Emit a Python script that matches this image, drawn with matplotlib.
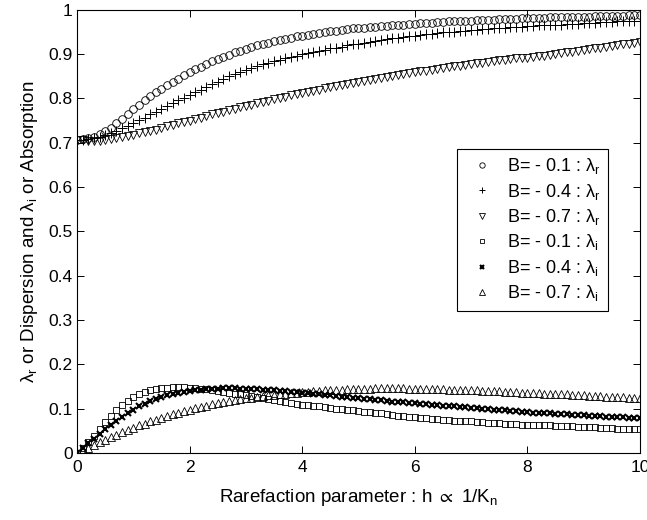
import numpy as np
import matplotlib
matplotlib.use('Agg')
from matplotlib import pyplot

pyplot.rcParams['font.family'] = ['Liberation Sans', 'DejaVu Sans']
pyplot.rcParams['mathtext.fontset'] = 'custom'
pyplot.rcParams['mathtext.rm'] = 'Liberation Sans'
pyplot.rcParams['mathtext.it'] = 'Liberation Sans'
pyplot.rcParams['mathtext.default'] = 'regular'
pyplot.rcParams['mathtext.fallback'] = 'stixsans'

# rarefaction parameter h, one marker every 0.1
h = [round(0.1 * i, 1) for i in range(101)]

# dispersion lambda_r
lam_r_01 = [0.707, 0.708, 0.710, 0.714, 0.719, 0.726, 0.734, 0.744, 0.754, 0.765,
            0.776, 0.786, 0.796, 0.806, 0.814, 0.822, 0.830, 0.838, 0.845, 0.852,
            0.859, 0.866, 0.872, 0.878, 0.884, 0.889, 0.894, 0.899, 0.904, 0.908,
            0.912, 0.916, 0.920, 0.923, 0.926, 0.929, 0.932, 0.935, 0.937, 0.940,
            0.942, 0.944, 0.946, 0.948, 0.950, 0.952, 0.953, 0.955, 0.956, 0.958,
            0.959, 0.960, 0.961, 0.962, 0.963, 0.964, 0.965, 0.966, 0.967, 0.968,
            0.969, 0.970, 0.971, 0.971, 0.972, 0.973, 0.974, 0.974, 0.975, 0.976,
            0.976, 0.977, 0.977, 0.978, 0.978, 0.979, 0.979, 0.980, 0.980, 0.981,
            0.981, 0.982, 0.982, 0.982, 0.983, 0.983, 0.984, 0.984, 0.984, 0.985,
            0.985, 0.985, 0.986, 0.986, 0.986, 0.987, 0.987, 0.987, 0.988, 0.988,
            0.988]
lam_r_04 = [0.707, 0.707, 0.708, 0.710, 0.713, 0.717, 0.722, 0.727, 0.733, 0.739,
            0.745, 0.751, 0.757, 0.764, 0.770, 0.777, 0.783, 0.790, 0.796, 0.802,
            0.808, 0.814, 0.820, 0.826, 0.832, 0.838, 0.844, 0.850, 0.855, 0.860,
            0.865, 0.869, 0.873, 0.877, 0.881, 0.885, 0.888, 0.891, 0.894, 0.897,
            0.900, 0.903, 0.905, 0.908, 0.910, 0.913, 0.915, 0.917, 0.920, 0.922,
            0.924, 0.926, 0.928, 0.930, 0.932, 0.934, 0.936, 0.937, 0.939, 0.941,
            0.942, 0.944, 0.945, 0.946, 0.948, 0.949, 0.950, 0.951, 0.952, 0.953,
            0.954, 0.955, 0.956, 0.957, 0.958, 0.959, 0.960, 0.961, 0.962, 0.962,
            0.963, 0.964, 0.965, 0.965, 0.966, 0.967, 0.967, 0.968, 0.969, 0.969,
            0.970, 0.971, 0.971, 0.972, 0.972, 0.973, 0.974, 0.974, 0.975, 0.975,
            0.976]
lam_r_07 = [0.707, 0.706, 0.705, 0.705, 0.705, 0.706, 0.708, 0.710, 0.712, 0.715,
            0.718, 0.721, 0.724, 0.727, 0.730, 0.733, 0.737, 0.740, 0.744, 0.747,
            0.750, 0.754, 0.757, 0.760, 0.764, 0.767, 0.770, 0.774, 0.777, 0.780,
            0.783, 0.786, 0.789, 0.792, 0.795, 0.798, 0.801, 0.804, 0.807, 0.810,
            0.812, 0.815, 0.818, 0.820, 0.823, 0.826, 0.828, 0.831, 0.833, 0.836,
            0.838, 0.840, 0.842, 0.845, 0.847, 0.849, 0.851, 0.853, 0.855, 0.857,
            0.859, 0.861, 0.863, 0.865, 0.867, 0.869, 0.871, 0.873, 0.874, 0.876,
            0.878, 0.880, 0.881, 0.883, 0.885, 0.886, 0.888, 0.889, 0.891, 0.892,
            0.892, 0.894, 0.896, 0.897, 0.899, 0.901, 0.903, 0.905, 0.906, 0.908,
            0.910, 0.912, 0.913, 0.915, 0.917, 0.918, 0.920, 0.922, 0.923, 0.925,
            0.927]

# absorption lambda_i
lam_i_01 = [0.000, 0.012, 0.025, 0.039, 0.054, 0.070, 0.084, 0.097, 0.108, 0.118,
            0.126, 0.132, 0.137, 0.141, 0.144, 0.146, 0.147, 0.148, 0.148, 0.148,
            0.147, 0.146, 0.145, 0.144, 0.142, 0.140, 0.138, 0.136, 0.134, 0.132,
            0.130, 0.128, 0.126, 0.124, 0.122, 0.119, 0.117, 0.115, 0.113, 0.111,
            0.109, 0.108, 0.106, 0.105, 0.103, 0.102, 0.100, 0.099, 0.097, 0.096,
            0.095, 0.093, 0.092, 0.090, 0.089, 0.087, 0.086, 0.084, 0.083, 0.081,
            0.080, 0.079, 0.078, 0.077, 0.076, 0.075, 0.074, 0.073, 0.072, 0.071,
            0.071, 0.070, 0.069, 0.068, 0.068, 0.067, 0.066, 0.066, 0.065, 0.064,
            0.064, 0.063, 0.063, 0.062, 0.062, 0.061, 0.061, 0.060, 0.060, 0.059,
            0.059, 0.058, 0.058, 0.057, 0.057, 0.056, 0.055, 0.055, 0.054, 0.054,
            0.053]
lam_i_04 = [0.000, 0.011, 0.022, 0.032, 0.043, 0.053, 0.063, 0.073, 0.082, 0.090,
            0.098, 0.105, 0.111, 0.117, 0.122, 0.126, 0.130, 0.133, 0.136, 0.138,
            0.140, 0.142, 0.143, 0.144, 0.145, 0.145, 0.146, 0.146, 0.146, 0.145,
            0.145, 0.144, 0.144, 0.143, 0.142, 0.141, 0.140, 0.139, 0.138, 0.137,
            0.136, 0.135, 0.134, 0.132, 0.131, 0.130, 0.129, 0.127, 0.126, 0.125,
            0.124, 0.122, 0.121, 0.120, 0.119, 0.118, 0.116, 0.115, 0.114, 0.113,
            0.112, 0.111, 0.110, 0.109, 0.108, 0.107, 0.106, 0.105, 0.104, 0.103,
            0.102, 0.101, 0.100, 0.099, 0.098, 0.097, 0.096, 0.095, 0.094, 0.093,
            0.092, 0.091, 0.091, 0.090, 0.089, 0.088, 0.088, 0.087, 0.086, 0.085,
            0.085, 0.084, 0.083, 0.083, 0.082, 0.081, 0.081, 0.080, 0.079, 0.079,
            0.078]
lam_i_07 = [0.000, 0.006, 0.012, 0.018, 0.024, 0.030, 0.036, 0.041, 0.047, 0.052,
            0.057, 0.062, 0.066, 0.071, 0.075, 0.079, 0.083, 0.087, 0.091, 0.095,
            0.098, 0.101, 0.104, 0.107, 0.110, 0.112, 0.115, 0.117, 0.119, 0.121,
            0.123, 0.125, 0.127, 0.128, 0.130, 0.131, 0.133, 0.134, 0.135, 0.136,
            0.137, 0.138, 0.139, 0.140, 0.141, 0.142, 0.142, 0.143, 0.144, 0.144,
            0.145, 0.145, 0.145, 0.146, 0.146, 0.146, 0.146, 0.146, 0.146, 0.145,
            0.145, 0.145, 0.145, 0.144, 0.144, 0.144, 0.143, 0.143, 0.142, 0.142,
            0.141, 0.141, 0.140, 0.140, 0.139, 0.139, 0.138, 0.138, 0.137, 0.136,
            0.136, 0.135, 0.135, 0.134, 0.133, 0.133, 0.132, 0.132, 0.131, 0.130,
            0.130, 0.129, 0.129, 0.128, 0.127, 0.127, 0.126, 0.126, 0.125, 0.124,
            0.124]

labels = ['B= - 0.1 : $\\lambda_r$', 'B= - 0.4 : $\\lambda_r$', 'B= - 0.7 : $\\lambda_r$',
          'B= - 0.1 : $\\lambda_i$', 'B= - 0.4 : $\\lambda_i$', 'B= - 0.7 : $\\lambda_i$']

figure = pyplot.figure(figsize=(6.47, 5.2), dpi=100)
axes = figure.add_axes([0.119, 0.129, 0.870, 0.852])

series = [
    (lam_r_01, 'o', 5.5, 0.6),
    (lam_r_04, '+', 6.5, 0.7),
    (lam_r_07, 'v', 5.5, 0.6),
    (lam_i_01, 's', 4.8, 0.6),
    (lam_i_04, 'x', 4.0, 1.5),
    (lam_i_07, '^', 5.5, 0.6),
]
for (vals, mk, ms, mew), lab in zip(series, labels):
    axes.plot(h, vals, linestyle='none', marker=mk, markersize=ms, markeredgewidth=mew,
              markerfacecolor='none', markeredgecolor='black', label=lab)

axes.set_xlim(0, 10)
axes.set_ylim(0, 1)
axes.set_xticks(np.arange(0, 11, 2))
axes.set_yticks(np.arange(0, 1.01, 0.1))
axes.set_yticklabels(['0', '0.1', '0.2', '0.3', '0.4', '0.5', '0.6', '0.7', '0.8', '0.9', '1'])
axes.tick_params(direction='in', top=True, right=True, length=5, width=0.7,
                 labelsize=12.5)
axes.tick_params(axis='x', pad=5)
axes.tick_params(axis='y', pad=3)
for s in axes.spines.values():
    s.set_linewidth(0.8)

axes.set_xlabel('Rarefaction parameter : h $\\propto$ 1/K$_n$', fontsize=13.5, labelpad=9)
axes.set_ylabel('$\\lambda_r$ or Dispersion and $\\lambda_i$ or Absorption', fontsize=13.5, labelpad=6)

leg = axes.legend(loc='upper left', bbox_to_anchor=(0.675, 0.686), borderaxespad=0,
                  fontsize=13, markerscale=0.7, fancybox=False, framealpha=1,
                  edgecolor='black', handlelength=2.0, handletextpad=0.4,
                  labelspacing=0.3, borderpad=0.4)
leg.get_frame().set_linewidth(0.8)

pyplot.savefig('out.png', dpi=100)
